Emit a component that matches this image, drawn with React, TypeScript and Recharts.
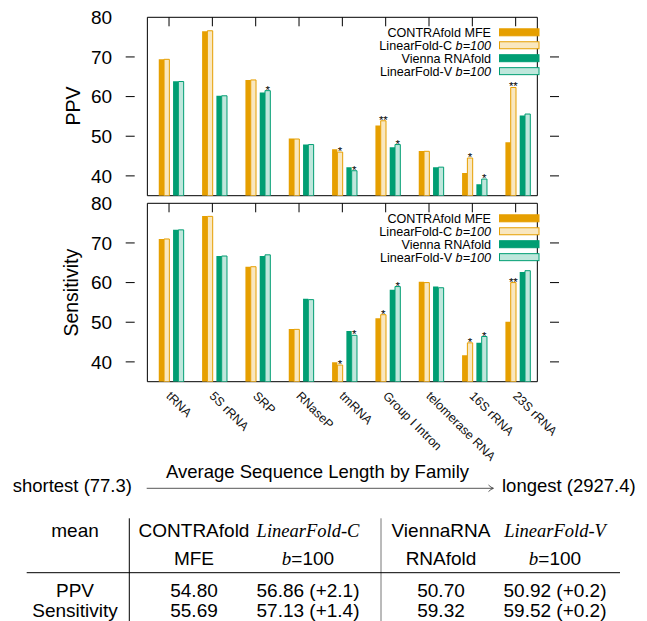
import React from 'react';
import { BarChart, Bar, XAxis, YAxis, ReferenceArea, LabelList } from 'recharts';

// ---------- data ----------
const families = ['tRNA', '5S rRNA', 'SRP', 'RNaseP', 'tmRNA', 'Group I Intron', 'telomerase RNA', '16S rRNA', '23S rRNA'];

const ppvContrafold = [69.4, 76.5, 64.2, 49.4, 46.7, 52.7, 46.3, 40.7, 48.5];
const ppvLinearC = [69.4, 76.6, 64.2, 49.3, 46.0, 53.9, 46.2, 44.5, 62.3];
const ppvVienna = [63.9, 60.2, 61.0, 47.9, 42.2, 47.2, 42.2, 37.9, 55.2];
const ppvLinearV = [63.8, 60.2, 61.5, 47.9, 41.3, 47.9, 42.2, 39.2, 55.6];
const ppvStarsC = ['', '', '', '', '*', '**', '', '*', '**'];
const ppvStarsV = ['', '', '*', '', '*', '*', '', '*', ''];

const sensContrafold = [71.0, 76.8, 64.0, 48.3, 39.9, 51.0, 60.2, 41.7, 50.1];
const sensLinearC = [71.0, 76.7, 64.0, 48.2, 39.2, 51.9, 60.0, 44.8, 60.0];
const sensVienna = [73.3, 66.7, 66.7, 55.9, 47.8, 58.2, 59.0, 44.8, 62.7];
const sensLinearV = [73.3, 66.7, 67.0, 55.7, 46.7, 59.0, 58.7, 46.4, 63.0];
const sensStarsC = ['', '', '', '', '*', '*', '', '*', '**'];
const sensStarsV = ['', '', '', '', '*', '*', '', '*', ''];

const yTicks = [40, 50, 60, 70, 80];
const yDomain = [35, 80];

const legendNames = ['CONTRAfold MFE', 'LinearFold-C', 'Vienna RNAfold', 'LinearFold-V'];
const legendSuffix = ['', 'b=100', '', 'b=100'];

const tableHead1 = ['mean', 'CONTRAfold', 'LinearFold-C', 'ViennaRNA', 'LinearFold-V'];
const tableHead2 = ['', 'MFE', '=100', 'RNAfold', '=100'];
const meanPPV = ['54.80', '56.86 (+2.1)', '50.70', '50.92 (+0.2)'];
const meanSens = ['55.69', '57.13 (+1.4)', '59.32', '59.52 (+0.2)'];

// ---------- styles ----------
const ORANGE = '#E69F00';
const ORANGE_L = '#F9E7BF';
const GREEN = '#009E73';
const GREEN_L = '#BFE7DC';
const SANS = '"Liberation Sans", Arial, Helvetica, sans-serif';
const SERIF = '"Liberation Serif", "Times New Roman", serif';

const W = 647;
const PLOT_L = 125.7;
const PLOT_R = 559;
const PLOT_W = PLOT_R - PLOT_L;
const PLOT_H = 178.4;
const BAND = PLOT_W / 10;

const buildRows = (c: number[], lc: number[], v: number[], lv: number[], sc: string[], sv: string[]) =>
  families.map((name, i) => ({ name, c: c[i], lc: lc[i], v: v[i], lv: lv[i], sc: sc[i], sv: sv[i] }));

const ppvData = buildRows(ppvContrafold, ppvLinearC, ppvVienna, ppvLinearV, ppvStarsC, ppvStarsV);
const sensData = buildRows(sensContrafold, sensLinearC, sensVienna, sensLinearV, sensStarsC, sensStarsV);

const renderStar = (p: any) => {
  const vb = p.viewBox && p.viewBox.width !== undefined ? p.viewBox : p;
  const { x, y, width } = vb;
  const value = p.value;
  if (!value) return null;
  return (
    <text x={x + width / 2} y={y + 3} textAnchor="middle" fontSize={11.5} fontFamily={SANS} fill="#000">
      {value}
    </text>
  );
};

const YTick = (props: any) => {
  const { x, y, payload } = props;
  return (
    <g>
      <text x={x - 13.5} y={y} dy="0.36em" textAnchor="end" fontSize={19} fontFamily={SANS} fill="#000">
        {payload.value}
      </text>
      {payload.value < 80 && (
        <>
          <line x1={x} x2={x + 9} y1={y} y2={y} stroke="#000" strokeWidth={1} />
          <line x1={x + PLOT_W} x2={x + PLOT_W - 9} y1={y} y2={y} stroke="#000" strokeWidth={1} />
        </>
      )}
    </g>
  );
};

const makeXTick = (showLabel: boolean) => (props: any) => {
  const { x, y, payload } = props;
  const topY = y - PLOT_H;
  return (
    <g>
      <line x1={x} x2={x} y1={topY} y2={topY + 9} stroke="#000" strokeWidth={1} />
      {showLabel && (
        <text
          x={x - 3.5}
          y={y + 15}
          transform={`rotate(45 ${x - 3.5} ${y + 15})`}
          textAnchor="start"
          fontSize={12.5}
          fontFamily={SANS}
          fill="#111"
        >
          {payload.value}
        </text>
      )}
    </g>
  );
};

const Panel = ({ data, height, plotTop, xAxisHeight, showLabels }: any) => (
  <BarChart
    width={W}
    height={height}
    data={data}
    margin={{ top: plotTop, right: W - PLOT_R, bottom: 0, left: 0 }}
    barGap={0}
    barCategoryGap={0}
  >
    <XAxis
      dataKey="name"
      type="category"
      interval={0}
      padding={{ left: BAND / 2, right: BAND / 2 }}
      tickSize={0}
      tickMargin={0}
      axisLine={false}
      tickLine={false}
      height={xAxisHeight}
      tick={makeXTick(showLabels)}
    />
    <YAxis
      type="number"
      domain={yDomain}
      allowDataOverflow
      ticks={yTicks}
      interval={0}
      width={PLOT_L}
      tickSize={0}
      tickMargin={0}
      axisLine={false}
      tickLine={false}
      tick={YTick}
    />
    <ReferenceArea y1={35} y2={80} fill="none" stroke="#000" strokeWidth={1} ifOverflow="visible" />
    <Bar dataKey="gapA" barSize={4.4} isAnimationActive={false} />
    <Bar dataKey="c" barSize={5.3} fill={ORANGE} isAnimationActive={false} />
    <Bar dataKey="lc" barSize={5.3} fill={ORANGE_L} stroke={ORANGE} strokeWidth={1} isAnimationActive={false}>
      <LabelList dataKey="sc" content={renderStar} />
    </Bar>
    <Bar dataKey="gapB" barSize={3.7} isAnimationActive={false} />
    <Bar dataKey="v" barSize={5.3} fill={GREEN} isAnimationActive={false} />
    <Bar dataKey="lv" barSize={5.3} fill={GREEN_L} stroke={GREEN} strokeWidth={1} isAnimationActive={false}>
      <LabelList dataKey="sv" content={renderStar} />
    </Bar>
  </BarChart>
);

const legendFill = [ORANGE, ORANGE_L, GREEN, GREEN_L];
const legendStroke = [ORANGE, ORANGE, GREEN, GREEN];

const Legend = ({ top }: { top: number }) => (
  <g>
    {legendNames.map((n, i) => {
      const cy = top + i * 12.95;
      return (
        <g key={n}>
          <text x={491} y={cy} dy="0.36em" textAnchor="end" fontSize={12.6} fontFamily={SANS} fill="#000">
            {n}
            {legendSuffix[i] && <tspan fontStyle="italic">{' ' + legendSuffix[i]}</tspan>}
          </text>
          <rect x={499.5} y={cy - 3.5} width={39.5} height={7} fill={legendFill[i]} stroke={legendStroke[i]} strokeWidth={1} />
        </g>
      );
    })}
  </g>
);

const colX = [75, 194, 308, 441, 555];

export default function App() {
  return (
    <div style={{ position: 'absolute', left: 0, top: 0, width: W, height: 621, background: '#fff', overflow: 'hidden' }}>
      <div style={{ position: 'absolute', left: 0, top: 0 }}>
        <Panel data={ppvData} height={200} plotTop={17.3} xAxisHeight={200 - 195.7} showLabels={false} />
      </div>
      <div style={{ position: 'absolute', left: 0, top: 185 }}>
        <Panel data={sensData} height={295} plotTop={18.3} xAxisHeight={295 - 196.7} showLabels={true} />
      </div>
      <svg width={W} height={621} style={{ position: 'absolute', left: 0, top: 0, pointerEvents: 'none' }}>
        <Legend top={32.3} />
        <Legend top={218.3} />
        <text transform="translate(79.5 106) rotate(-90)" textAnchor="middle" fontSize={19.5} fontFamily={SANS} fill="#000">
          PPV
        </text>
        <text transform="translate(78 292.7) rotate(-90)" textAnchor="middle" fontSize={19.5} fontFamily={SANS} fill="#000">
          Sensitivity
        </text>

        <text x={166} y={477.7} fontSize={18.5} fontFamily={SANS} fill="#000">Average Sequence Length by Family</text>
        <text x={12.7} y={492.3} fontSize={18.5} fontFamily={SANS} fill="#000">shortest (77.3)</text>
        <text x={502} y={492.3} fontSize={18.5} fontFamily={SANS} fill="#000">longest (2927.4)</text>
        <line x1={146.7} x2={493} y1={488.3} y2={488.3} stroke="#444" strokeWidth={0.9} />
        <path d="M 488.5 485 Q 491 487.6 493.5 488.3 Q 491 489 488.5 491.6" fill="none" stroke="#444" strokeWidth={0.9} />

        {/* table */}
        <line x1={129.3} x2={129.3} y1={518.3} y2={621} stroke="#000" strokeWidth={1} />
        <line x1={381} x2={381} y1={518.3} y2={621} stroke="#777" strokeWidth={1} />
        <line x1={26.7} x2={620} y1={572.7} y2={572.7} stroke="#000" strokeWidth={1} />
        {tableHead1.map((t, i) => (
          <text
            key={'h1' + i}
            x={colX[i]}
            y={536.5}
            textAnchor="middle"
            fontSize={i === 2 || i === 4 ? 18.5 : 19}
            fontFamily={i === 2 || i === 4 ? SERIF : SANS}
            fontStyle={i === 2 || i === 4 ? 'italic' : 'normal'}
            fill="#000"
          >
            {t}
          </text>
        ))}
        {tableHead2.map((t, i) =>
          t ? (
            <text key={'h2' + i} x={colX[i]} y={565} textAnchor="middle" fontSize={19} fontFamily={SANS} fill="#000">
              {i === 2 || i === 4 ? (
                <>
                  <tspan fontFamily={SERIF} fontStyle="italic">b</tspan>
                  {t}
                </>
              ) : (
                t
              )}
            </text>
          ) : null
        )}
        <text x={colX[0]} y={597} textAnchor="middle" fontSize={19} fontFamily={SANS} fill="#000">PPV</text>
        <text x={colX[0]} y={616.5} textAnchor="middle" fontSize={19} fontFamily={SANS} fill="#000">Sensitivity</text>
        {meanPPV.map((t, i) => (
          <text key={'p' + i} x={colX[i + 1]} y={597} textAnchor="middle" fontSize={19} fontFamily={SANS} fill="#000">{t}</text>
        ))}
        {meanSens.map((t, i) => (
          <text key={'s' + i} x={colX[i + 1]} y={616.5} textAnchor="middle" fontSize={19} fontFamily={SANS} fill="#000">{t}</text>
        ))}
      </svg>
    </div>
  );
}
